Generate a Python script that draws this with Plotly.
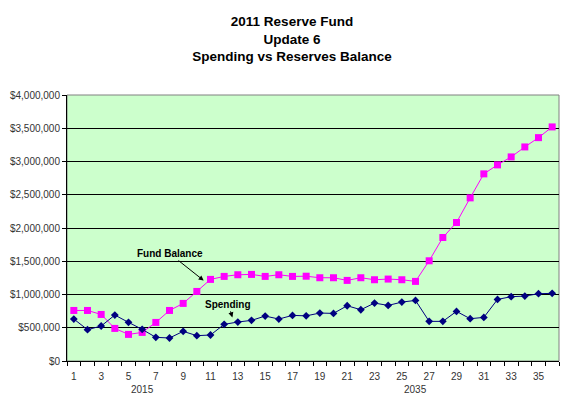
import plotly.graph_objects as go

# 数据
periods = list(range(1, 37))
fund_balance = [760000, 760000, 700000, 490000, 400000, 430000, 580000, 760000, 866000, 1046000,
                1227000, 1272000, 1297000, 1302000, 1272000, 1297000, 1272000, 1275000, 1252000, 1252000,
                1212000, 1252000, 1222000, 1232000, 1222000, 1197000, 1507000, 1857000, 2083000, 2453000,
                2814000, 2949000, 3069000, 3219000, 3359000, 3520000]
spending = [631000, 471000, 526000, 691000, 581000, 476000, 356000, 346000, 446000, 381000,
            391000, 551000, 586000, 611000, 676000, 631000, 686000, 679000, 721000, 716000,
            831000, 771000, 871000, 836000, 886000, 911000, 596000, 596000, 746000, 636000,
            656000, 926000, 967000, 976000, 1012000, 1017000]
odd_ticks = list(range(1, 37, 2))
year_labels = ["2015", "2035"]
year_pos = [6, 26]

FONT = "Arial, Liberation Sans, sans-serif"

fig = go.Figure()

fig.add_trace(go.Scatter(
    x=periods, y=fund_balance, name="Fund Balance", mode="lines+markers",
    line=dict(color="#FF00FF", width=1),
    marker=dict(symbol="square", size=7, color="#FF00FF"),
))
fig.add_trace(go.Scatter(
    x=periods, y=spending, name="Spending", mode="lines+markers",
    line=dict(color="#000080", width=1),
    marker=dict(symbol="diamond", size=6, color="#000080"),
))

# 绘图区边框（上、右为灰色）
fig.add_shape(type="rect", xref="paper", yref="paper", x0=0, x1=1, y0=0, y1=1,
              line=dict(color="#808080", width=1), layer="below")

annotations = [
    dict(x=10.5, y=1210000, xref="x", yref="y", text="<b>Fund Balance</b>",
         showarrow=True, arrowhead=2, arrowsize=1, arrowwidth=1, arrowcolor="black",
         ax=-34, ay=-27, font=dict(family=FONT, size=10, color="black")),
    dict(x=12.6, y=656000, xref="x", yref="y", text="<b>Spending</b>",
         showarrow=True, arrowhead=2, arrowsize=1, arrowwidth=1, arrowcolor="black",
         ax=-4, ay=-13, font=dict(family=FONT, size=10, color="black")),
]
for lab, pos in zip(year_labels, year_pos):
    annotations.append(dict(x=pos, y=-0.078, xref="x", yref="paper", text=lab,
                            showarrow=False, yanchor="top",
                            font=dict(family=FONT, size=10, color="#333333")))

# 页面 body 默认有 8px 边距，所以图整体缩小 8px
fig.update_layout(
    width=568, height=403,
    margin=dict(l=59, r=17, t=87, b=50),
    paper_bgcolor="white",
    plot_bgcolor="#CCFFCC",
    showlegend=False,
    font=dict(family=FONT, size=10, color="#333333"),
    title=dict(
        text="<b>2011 Reserve Fund<br>Update 6<br>Spending vs Reserves Balance</b>",
        x=0.5, xanchor="center", y=0.955, yanchor="top", yref="container",
        font=dict(family=FONT, size=13.5, color="black"),
    ),
    xaxis=dict(
        range=[0.5, 36.5], tickmode="array", tickvals=odd_ticks,
        ticktext=[str(t) for t in odd_ticks], ticks="",
        ticklabelstandoff=6, automargin=False,
        showgrid=False, zeroline=False,
        showline=True, linecolor="black", linewidth=1,
        minor=dict(ticks="outside", tickmode="linear", tick0=0.5, dtick=1,
                   ticklen=4, tickcolor="black", showgrid=False),
        tickfont=dict(family=FONT, size=10, color="#333333"),
    ),
    yaxis=dict(
        range=[0, 4000000], dtick=500000, tickprefix="$", tickformat=",",
        automargin=False,
        showgrid=True, gridcolor="black", gridwidth=1, zeroline=False,
        showline=True, linecolor="black", linewidth=1,
        ticks="outside", ticklen=4, tickcolor="black",
        tickfont=dict(family=FONT, size=10, color="#333333"),
    ),
    annotations=annotations,
)

fig.write_html("out.html")
